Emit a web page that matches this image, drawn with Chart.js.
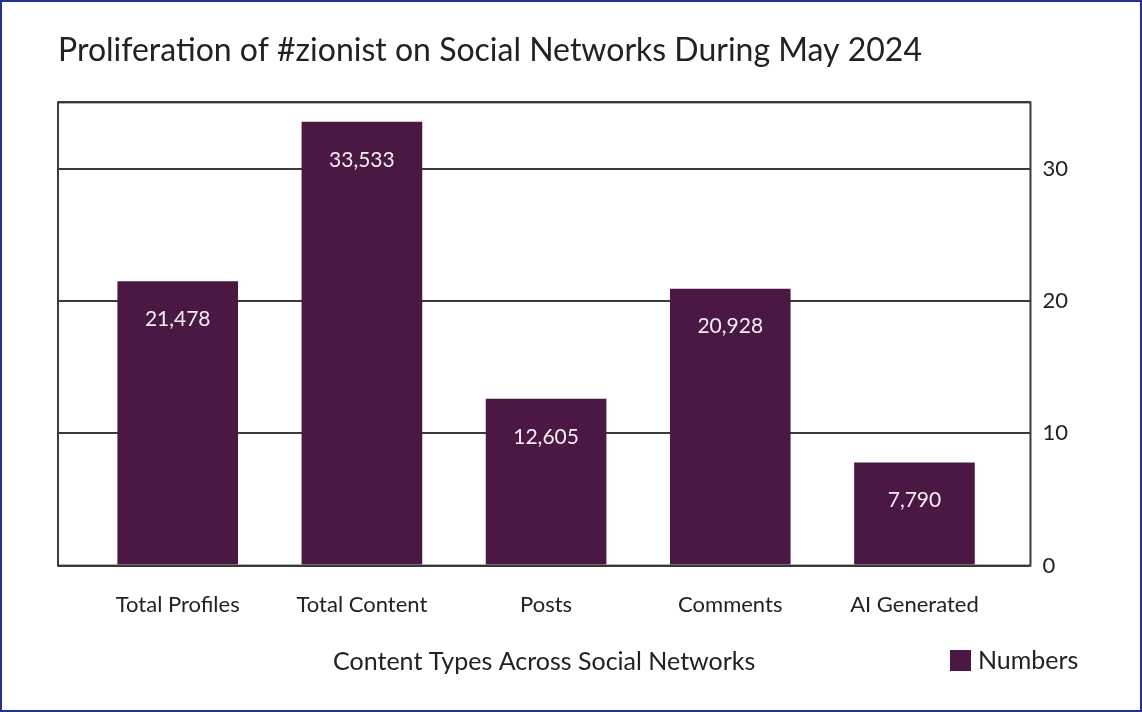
<!DOCTYPE html>
<html>
<head>
<meta charset="utf-8">
<script src="https://cdn.jsdelivr.net/npm/chart.js@4.4.1/dist/chart.umd.min.js"></script>
<style>
  body { margin: 0; background: #fff; }
  #wrap { position: relative; width: 1142px; height: 712px; }
  #frame { position: absolute; left: 0; top: 0; width: 1142px; height: 712px; box-sizing: border-box; border: 2px solid #23308f; pointer-events: none; }
</style>
</head>
<body>
<div id="wrap">
  <canvas id="chartContent" width="1142" height="712"></canvas>
  <div id="frame"></div>
</div>
<script>
// --------- Données du graphique ---------
const categories = ['Total Profiles', 'Total Content', 'Posts', 'Comments', 'AI Generated'];
const numbers = [21478, 33533, 12605, 20928, 7790];
const yTicks = [0, 10000, 20000, 30000];

const barColor = '#4b1843';
const lineColor = '#3a3a3a';

// cadre autour de la zone du graphique
const framePlugin = {
    id: 'frame',
    afterDraw(chart) {
        const a = chart.chartArea;
        const ctx = chart.ctx;
        ctx.save();
        ctx.strokeStyle = lineColor;
        ctx.lineWidth = 2;
        ctx.strokeRect(a.left, a.top, a.right - a.left, a.bottom - a.top);
        ctx.restore();
    }
};

// étiquettes de valeurs dans les barres
const valueLabels = {
    id: 'valueLabels',
    afterDatasetsDraw(chart) {
        const ctx = chart.ctx;
        const meta = chart.getDatasetMeta(0);
        ctx.save();
        ctx.fillStyle = '#f2eef2';
        ctx.font = '21px Lato';
        ctx.textAlign = 'center';
        ctx.textBaseline = 'middle';
        meta.data.forEach((bar, i) => {
            ctx.fillText(numbers[i].toLocaleString('en-US'), bar.x, bar.y + 38);
        });
        ctx.restore();
    }
};

// légende à droite, sur la ligne du titre de l'axe x
const sideLegend = {
    id: 'sideLegend',
    afterDraw(chart) {
        const ctx = chart.ctx;
        const y = 661;
        ctx.save();
        ctx.fillStyle = barColor;
        ctx.fillRect(950, y - 11, 21, 21);
        ctx.fillStyle = '#222';
        ctx.font = '25px Lato';
        ctx.textBaseline = 'middle';
        ctx.fillText(chart.data.datasets[0].label, 978, y);
        ctx.restore();
    }
};

const ctx = document.getElementById('chartContent').getContext('2d');
new Chart(ctx, {
    type: 'bar',
    data: {
        datasets: [{
            label: 'Numbers',
            data: numbers.map((v, i) => ({ x: i, y: v })),
            backgroundColor: barColor,
            borderWidth: 0,
            categoryPercentage: 1,
            barPercentage: 0.655
        }]
    },
    options: {
        responsive: false,
        animation: false,
        layout: { padding: { left: 58, right: 62, top: 0, bottom: 0 } },
        plugins: {
            legend: { display: false },
            tooltip: { enabled: false },
            title: {
                display: true,
                text: 'Proliferation of #zionist on Social Networks During May 2024',
                align: 'start',
                color: '#222',
                font: { family: 'Lato', size: 32, weight: 'normal' },
                padding: { top: 31, bottom: 33 }
            }
        },
        scales: {
            x: {
                type: 'linear',
                offset: false,
                min: -0.65,
                max: 4.63,
                afterBuildTicks: (scale) => {
                    scale.ticks = categories.map((c, i) => ({ value: i }));
                },
                grid: { display: false, drawTicks: false },
                border: { display: false },
                ticks: {
                    color: '#222',
                    font: { family: 'Lato', size: 22 },
                    padding: 26,
                    callback: v => categories[v]
                },
                title: {
                    display: true,
                    text: 'Content Types Across Social Networks',
                    color: '#222',
                    font: { family: 'Lato', size: 25 },
                    padding: { top: 3, bottom: 35 }
                }
            },
            y: {
                position: 'right',
                min: 0,
                max: 35000,
                afterBuildTicks: (scale) => {
                    scale.ticks = yTicks.map(v => ({ value: v })).concat([{ value: 35000 }]);
                },
                grid: { color: lineColor, lineWidth: 2, drawTicks: false },
                border: { display: false },
                ticks: {
                    color: '#222',
                    font: { family: 'Lato', size: 22 },
                    padding: 12,
                    callback: v => (v % 10000 === 0 ? v / 1000 : '')
                }
            }
        }
    },
    plugins: [framePlugin, valueLabels, sideLegend]
});
</script>
</body>
</html>
